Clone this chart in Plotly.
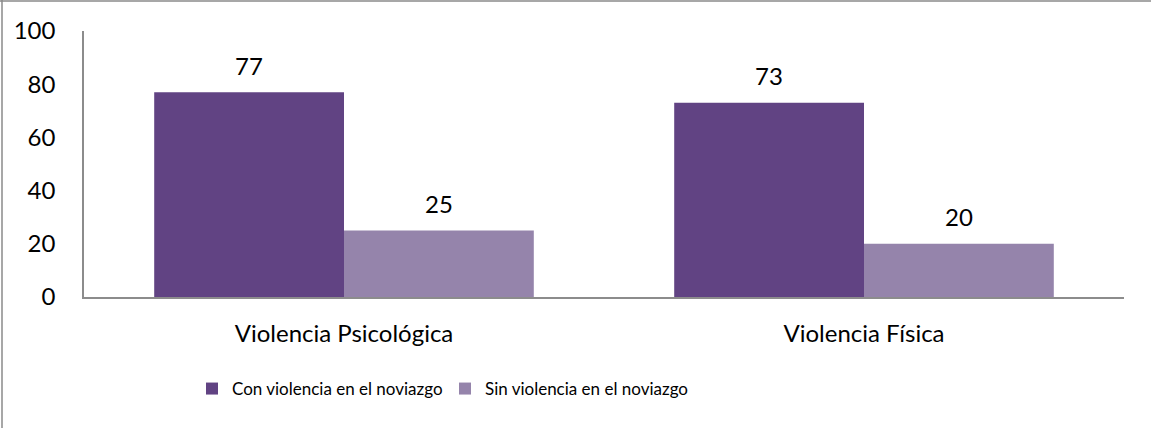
import plotly.graph_objects as go

categorias = ['Violencia Psicológica', 'Violencia Física']
con_violencia = [77, 73]
sin_violencia = [25, 20]
series = ['Con violencia en el noviazgo', 'Sin violencia en el noviazgo']
y_ticks = [0, 20, 40, 60, 80, 100]

color_con = '#614383'
color_sin = '#9584AB'
fuente = 'Lato'

W, H = 1151, 428
L, R, T, B = 84, 27, 31, 131
pw, ph = W - L - R, H - T - B

fig = go.Figure()
fig.add_trace(go.Bar(x=categorias, y=con_violencia, name=series[0],
                     marker=dict(color=color_con, line=dict(width=0))))
fig.add_trace(go.Bar(x=categorias, y=sin_violencia, name=series[1],
                     marker=dict(color=color_sin, line=dict(width=0))))

# etiquetas de valor encima de cada barra
annotations = []
for vals, shift in ((con_violencia, -95), (sin_violencia, 95)):
    for cat, v in zip(categorias, vals):
        annotations.append(dict(
            x=cat, y=v, xref='x', yref='y', text=str(v), showarrow=False,
            xshift=shift, yshift=27, yanchor='middle',
            font=dict(family=fuente, size=24, color='black')))

# borde exterior (solo izquierda y arriba visibles)
px = lambda p: (p - L) / pw
py = lambda p: (H - B - p) / ph
shapes = [
    dict(type='line', xref='paper', yref='paper', x0=px(2), x1=px(2), y0=py(0), y1=py(H),
         line=dict(color='#8a8a8a', width=1.5)),
    dict(type='line', xref='paper', yref='paper', x0=px(0), x1=px(W), y0=py(1), y1=py(1),
         line=dict(color='#8a8a8a', width=1.5)),
]

fig.update_layout(
    width=W, height=H,
    margin=dict(l=L, r=R, t=T, b=B),
    plot_bgcolor='white', paper_bgcolor='white',
    font=dict(family=fuente, size=24, color='black'),
    barmode='group', bargap=0.27, bargroupgap=0,
    showlegend=True,
    legend=dict(orientation='h', x=px(192), xanchor='left', y=py(389), yanchor='middle',
                font=dict(family=fuente, size=17),
                entrywidth=208, entrywidthmode='pixels',
                itemwidth=30, bgcolor='rgba(0,0,0,0)'),
    annotations=annotations,
    shapes=shapes,
    xaxis=dict(showline=True, linecolor='#8c8c8c', linewidth=1.5, showgrid=False,
               ticks='', ticklabelstandoff=14, tickfont=dict(size=24)),
    yaxis=dict(range=[0, 100], tickvals=y_ticks, showline=True, linecolor='#8c8c8c',
               linewidth=1.5, showgrid=False, zeroline=False, ticks='',
               ticklabelstandoff=22, tickfont=dict(size=24)),
)

fig.write_html('out.html', config={'displayModeBar': False},
               post_script="document.body.style.margin='0';")
